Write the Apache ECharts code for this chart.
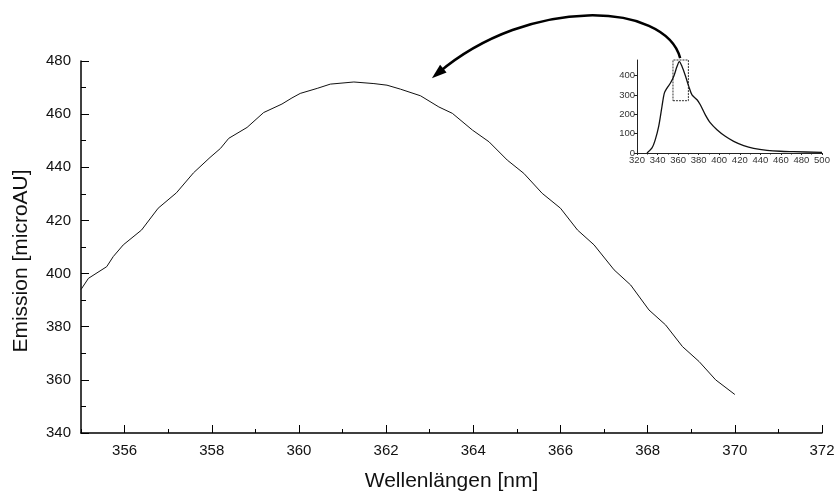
<!DOCTYPE html>
<html>
<head>
<meta charset="utf-8">
<script src="https://cdn.jsdelivr.net/npm/echarts@6/dist/echarts.min.js"></script>
<style>
  html, body { margin: 0; padding: 0; background: #fff; }
  #chart { width: 836px; height: 492px; }
</style>
</head>
<body>
<div id="chart"></div>
<script>
// Hauptkurve: Ausschnitt 355–370 nm
const mainWave = [355.0, 355.17, 355.59, 355.74, 355.97, 356.39, 356.77, 357.19, 357.58, 357.96,
  358.2, 358.39, 358.81, 359.19, 359.61, 359.84, 360.03, 360.42, 360.72, 361.26,
  361.72, 362.02, 362.33, 362.79, 363.21, 363.52, 363.98, 364.36, 364.78, 365.16,
  365.58, 366.0, 366.39, 366.77, 367.23, 367.61, 368.03, 368.41, 368.8, 369.18,
  369.56, 370.0]
const mainEmission = [394.0, 398.2, 402.6, 406.4, 410.8, 416.4, 424.6, 430.4, 437.9, 443.7,
  447.1, 450.9, 455.0, 460.6, 463.8, 466.1, 467.8, 469.7, 471.3, 472.1,
  471.5, 470.9, 469.4, 466.9, 462.7, 460.3, 454.0, 449.6, 442.7, 437.7,
  430.2, 424.6, 416.4, 410.8, 401.4, 395.7, 386.3, 380.7, 372.5, 366.9,
  360.0, 354.5]

// Übersichtsspektrum (Inset)
const insetWave = [329.7, 334.6, 337.8, 341.1, 344.3, 346.6, 349.2, 352.4, 355.7, 358.9,
  361.2, 363.8, 367.0, 370.3, 373.5, 378.4, 381.6, 386.5, 391.4, 397.8,
  405.9, 414.1, 423.8, 433.5, 446.5, 459.5, 472.4, 500]
const insetEmission = [0, 26, 69, 137, 240, 309, 335, 360, 395, 446,
  472, 446, 400, 345, 300, 275, 249, 197, 155, 120,
  86, 60, 38, 24, 14, 9, 7, 3]

// markierter Bereich im Inset
const zoomBox = { x: [355, 370], y: [270, 490] }

const FONT = "'Liberation Sans', Arial, sans-serif"

const chart = echarts.init(document.getElementById('chart'))

const option = {
  animation: false,
  backgroundColor: '#fff',
  grid: [
    { left: 81, right: 14, top: 61, bottom: 59, containLabel: false, outerBoundsMode: 'none' },
    { left: 637, right: 14, top: 60, bottom: 339, containLabel: false, outerBoundsMode: 'none' }
  ],
  xAxis: [
    {
      // Hauptachse: Beschriftung und Haupt-Ticks
      type: 'value',
      gridIndex: 0,
      position: 'bottom',
      min: 355,
      max: 372,
      splitNumber: 8,
      name: 'Wellenlängen [nm]',
      nameLocation: 'middle',
      nameGap: 38,
      nameTextStyle: { fontFamily: FONT, fontSize: 21, color: '#111' },
      axisLine: { lineStyle: { color: '#000', width: 1.5 } },
      axisTick: { inside: true, length: 8, lineStyle: { color: '#000', width: 1 } },
      axisLabel: { showMinLabel: false, margin: 10, fontFamily: FONT, fontSize: 15, color: '#111' },
      splitLine: { show: false }
    },
    {
      // Neben-Ticks jede 1 nm
      type: 'value',
      gridIndex: 0,
      position: 'bottom',
      min: 355,
      max: 372,
      interval: 1,
      axisLine: { show: false },
      axisTick: { inside: true, length: 4, lineStyle: { color: '#000', width: 1 } },
      axisLabel: { show: false },
      splitLine: { show: false }
    },
    {
      type: 'value',
      gridIndex: 1,
      min: 320,
      max: 500,
      interval: 20,
      axisLine: { lineStyle: { color: '#222', width: 1 } },
      axisTick: { inside: false, length: 2, lineStyle: { color: '#222' } },
      minorTick: { show: true, splitNumber: 2, length: 1.5, lineStyle: { color: '#222' } },
      axisLabel: { margin: 2, fontFamily: FONT, fontSize: 9.5, color: '#333' },
      splitLine: { show: false }
    }
  ],
  yAxis: [
    {
      type: 'value',
      gridIndex: 0,
      min: 340,
      max: 480,
      interval: 20,
      name: 'Emission [microAU]',
      nameLocation: 'middle',
      nameGap: 49,
      nameTextStyle: { fontFamily: FONT, fontSize: 21, color: '#111', padding: [0, 28, 0, 0] },
      axisLine: { show: true, lineStyle: { color: '#000', width: 1.5 } },
      axisTick: { inside: true, length: 8, lineStyle: { color: '#000', width: 1 } },
      minorTick: { show: true, splitNumber: 2, length: 5, lineStyle: { color: '#000', width: 1 } },
      axisLabel: { margin: 10, fontFamily: FONT, fontSize: 15, color: '#111' },
      splitLine: { show: false }
    },
    {
      type: 'value',
      gridIndex: 1,
      min: 0,
      max: 480,
      interval: 100,
      axisLine: { show: true, lineStyle: { color: '#222', width: 1 } },
      axisTick: { inside: false, length: 3, lineStyle: { color: '#222' } },
      axisLabel: { showMaxLabel: false, margin: 2, fontFamily: FONT, fontSize: 9.5, color: '#333' },
      splitLine: { show: false }
    }
  ],
  series: [
    {
      name: 'Emission',
      type: 'line',
      xAxisIndex: 0,
      yAxisIndex: 0,
      showSymbol: false,
      data: mainWave.map((w, i) => [w, mainEmission[i]]),
      lineStyle: { color: '#111', width: 1 }
    },
    {
      name: 'Spektrum',
      type: 'line',
      xAxisIndex: 2,
      yAxisIndex: 1,
      showSymbol: false,
      smooth: 0.3,
      clip: false,
      data: insetWave.map((w, i) => [w, insetEmission[i]]),
      lineStyle: { color: '#111', width: 1.3 },
      markArea: {
        silent: true,
        itemStyle: { color: 'rgba(0,0,0,0)', borderColor: '#333', borderWidth: 1, borderType: [2, 1] },
        data: [[
          { xAxis: zoomBox.x[0], yAxis: zoomBox.y[0] },
          { xAxis: zoomBox.x[1], yAxis: zoomBox.y[1] }
        ]]
      }
    }
  ]
}

chart.setOption(option)

// Pfeil vom markierten Bereich zur Hauptkurve
const p0 = chart.convertToPixel({ gridIndex: 1 }, [362, zoomBox.y[1]])
const p3 = chart.convertToPixel({ gridIndex: 0 }, [363.05, 473.5])
const c1 = [p0[0] - 15, p0[1] - 56]
const c2 = [p3[0] + 98, p3[1] - 83]
const dx = p3[0] - c2[0]
const dy = p3[1] - c2[1]
const len = Math.hypot(dx, dy)
const ux = dx / len
const uy = dy / len
const headLen = 15
const headHalf = 5
const base = [p3[0] - ux * headLen, p3[1] - uy * headLen]
const lineEnd = [p3[0] - ux * 8, p3[1] - uy * 8]

chart.setOption({
  graphic: [
    {
      type: 'bezierCurve',
      shape: {
        x1: p0[0], y1: p0[1],
        cpx1: c1[0], cpy1: c1[1],
        cpx2: c2[0], cpy2: c2[1],
        x2: lineEnd[0], y2: lineEnd[1]
      },
      style: { stroke: '#000', lineWidth: 2.5, fill: null },
      z: 100
    },
    {
      type: 'polygon',
      shape: {
        points: [
          p3,
          [base[0] - uy * headHalf, base[1] + ux * headHalf],
          [base[0] + uy * headHalf, base[1] - ux * headHalf]
        ]
      },
      style: { fill: '#000' },
      z: 100
    }
  ]
})
</script>
</body>
</html>
